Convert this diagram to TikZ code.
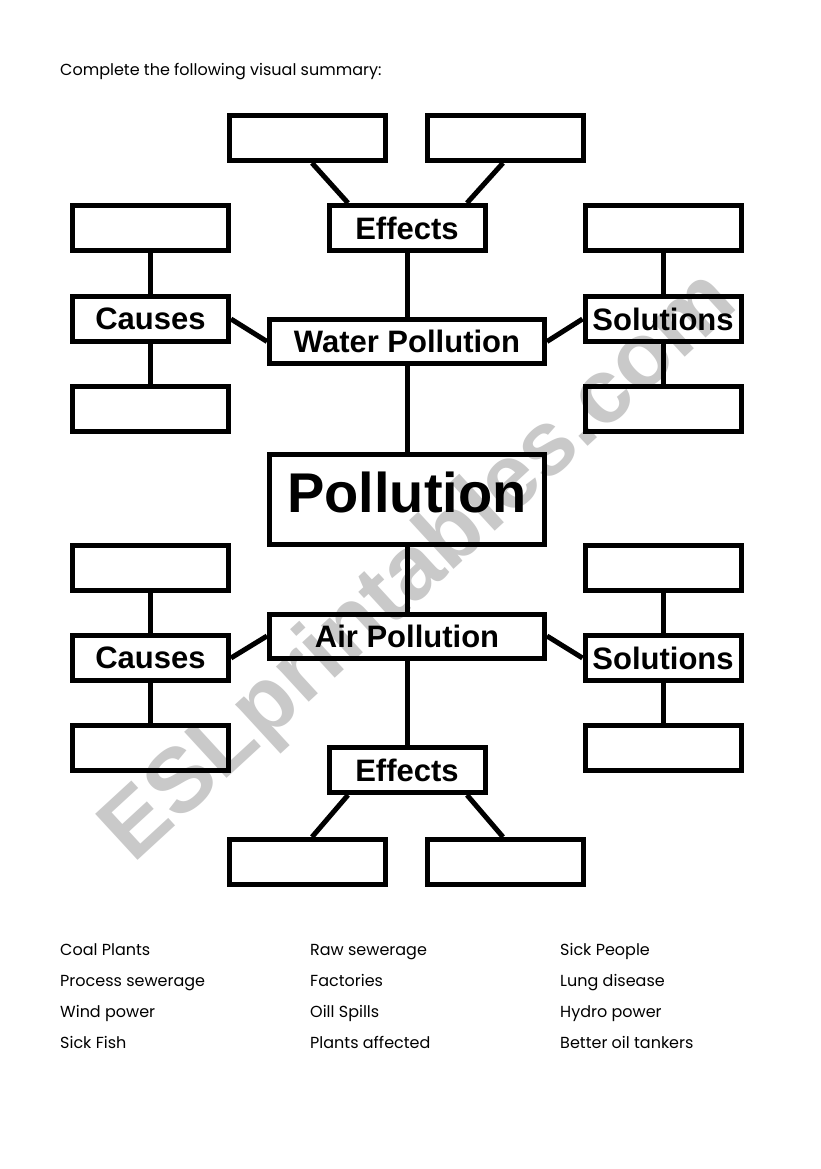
\documentclass[tikz,border=0pt]{standalone}
\usepackage{fontspec}
\setmainfont{Liberation Sans}
\newfontfamily\gothic{Poppins}
\begin{document}
\begin{tikzpicture}[x=1pt,y=-1pt,
  box/.style={draw, line width=5pt, minimum width=156pt, minimum height=45pt, inner sep=0pt,
    font=\fontsize{31}{31}\selectfont\bfseries},
  wide/.style={box, minimum width=275pt, minimum height=44pt},
  link/.style={line width=5pt},
  lst/.style={anchor=base west, inner sep=0pt, font=\gothic\fontsize{16}{16}\selectfont},
  wmark/.style={rotate=42.6, text=black!21, inner sep=0pt, font=\fontsize{91}{91}\selectfont\bfseries}]
\useasboundingbox[fill=white] (0,0) rectangle (821,1169);

% watermark
\node[wmark] (wm) at (421,568) {ESLprintables.com};

% instruction
\node[lst] (instr) at (60,76) {Complete the following visual summary:};

% water pollution branch
\node[box] (e1a) at (307.5,138) {};
\node[box] (e1b) at (505,138) {};
\node[box] (eff1) at (407,228) {Effects};
\node[box] (c1a) at (150.5,228) {};
\node[box] (caus1) at (150.5,319) {Causes};
\node[box] (c1b) at (150.5,409) {};
\node[box] (s1a) at (663,228) {};
\node[box] (sol1) at (663,319) {Solutions};
\node[box] (s1b) at (663,409) {};
\node[wide] (water) at (407,341.5) {Water Pollution};

% center
\node[box, minimum width=275pt, minimum height=90pt, font=\fontsize{56}{56}\selectfont\bfseries,
  text height=40pt, text depth=15pt] (poll) at (407,499.5) {Pollution};

% air pollution branch
\node[wide] (air) at (407,636) {Air Pollution};
\node[box] (c2a) at (150.5,568) {};
\node[box] (caus2) at (150.5,658) {Causes};
\node[box] (c2b) at (150.5,748) {};
\node[box] (s2a) at (663,568) {};
\node[box] (sol2) at (663,658) {Solutions};
\node[box] (s2b) at (663,748) {};
\node[box] (eff2) at (407,770) {Effects};
\node[box] (e2a) at (307.5,862) {};
\node[box] (e2b) at (505,862) {};

% connectors
\draw[link] (eff1.south) -- (water.north);
\draw[link] (water.south) -- (poll.north);
\draw[link] (poll.south) -- (air.north);
\draw[link] (air.south) -- (eff2.north);
\draw[link] (c1a.south) -- (caus1.north);
\draw[link] (caus1.south) -- (c1b.north);
\draw[link] (s1a.south) -- (sol1.north);
\draw[link] (sol1.south) -- (s1b.north);
\draw[link] (c2a.south) -- (caus2.north);
\draw[link] (caus2.south) -- (c2b.north);
\draw[link] (s2a.south) -- (sol2.north);
\draw[link] (sol2.south) -- (s2b.north);
\draw[link] (caus1.east) -- (water.west);
\draw[link] (water.east) -- (sol1.west);
\draw[link] (caus2.east) -- (air.west);
\draw[link] (air.east) -- (sol2.west);
\draw[link] ([xshift=4.5pt]e1a.south) -- ([xshift=-59pt]eff1.north);
\draw[link] ([xshift=-2pt]e1b.south) -- ([xshift=60pt]eff1.north);
\draw[link] ([xshift=-59pt]eff2.south) -- ([xshift=4.5pt]e2a.north);
\draw[link] ([xshift=60pt]eff2.south) -- ([xshift=-2pt]e2b.north);

% word list
\node[lst] (w11) at (60,955.5) {Coal Plants};
\node[lst] (w12) at (60,986) {Process sewerage};
\node[lst] (w13) at (60,1017) {Wind power};
\node[lst] (w14) at (60,1048) {Sick Fish};
\node[lst] (w21) at (310,955.5) {Raw sewerage};
\node[lst] (w22) at (310,986) {Factories};
\node[lst] (w23) at (310,1017) {Oill Spills};
\node[lst] (w24) at (310,1048) {Plants affected};
\node[lst] (w31) at (560,955.5) {Sick People};
\node[lst] (w32) at (560,986) {Lung disease};
\node[lst] (w33) at (560,1017) {Hydro power};
\node[lst] (w34) at (560,1048) {Better oil tankers};
\end{tikzpicture}
\end{document}
